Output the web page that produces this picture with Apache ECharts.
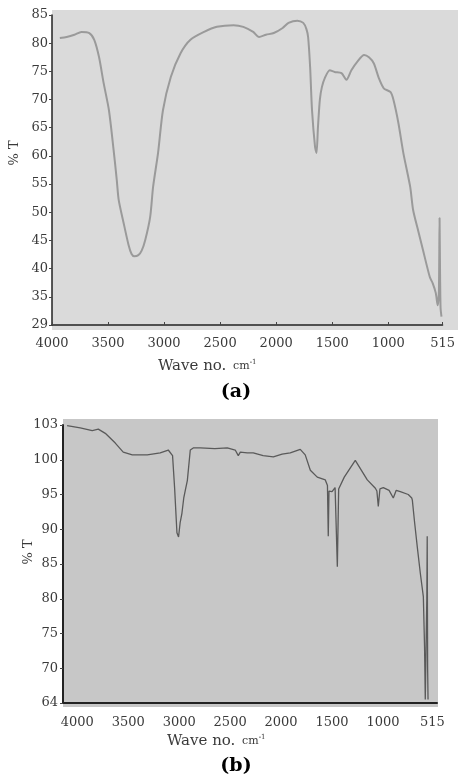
<!DOCTYPE html>
<html><head><meta charset="utf-8">
<script src="https://cdn.jsdelivr.net/npm/echarts@6/dist/echarts.min.js"></script>
<style>html,body{margin:0;padding:0;background:#fff}#c{width:458px;height:778px}</style>
</head><body><div id="c"></div>
<script>
// Panel (a): wavenumber (cm-1) and %T
const waveA = [3930,3869,3800,3737,3667,3623,3580,3540,3492,3450,3422,3405,3361,3317,3290,3265,3230,3200,3168,3124,3098,3054,3010,2940,2853,2765,2643,2529,2380,2293,2205,2152,2091,2021,1942,1890,1811,1758,1730,1715,1697,1680,1653,1640,1627,1610,1592,1566,1522,1478,1417,1373,1329,1277,1215,1172,1128,1084,1040,979,953,909,865,804,778,730,690,629,603,576,559,548,542,538,533,525];
const transA = [80.9,81.1,81.5,82.0,81.8,80.6,77.5,73,68.1,61,55.7,52.2,48.1,44.2,42.6,42.2,42.4,43.2,45.1,49.2,54.5,60.5,68.1,74.0,78.2,80.6,82.0,82.9,83.2,82.9,82.0,81.1,81.5,81.8,82.7,83.6,84.0,83.6,82.5,81.1,75.8,68.1,61.6,60.5,65.1,70,72.2,73.8,75.2,74.9,74.7,73.5,75.2,76.7,77.9,77.5,76.4,73.8,72.0,71.3,69.9,65.8,60.5,54.5,50.4,46.5,43.3,38.5,37.4,35.7,33.5,36,49,40,33,31.5];
// Panel (b)
const waveB = [4100,3971,3853,3794,3725,3627,3549,3460,3313,3186,3107,3065,3045,3022,3006,2990,2973,2955,2940,2920,2891,2862,2793,2650,2528,2450,2420,2400,2332,2273,2176,2076,1990,1910,1812,1763,1713,1645,1566,1545,1537,1530,1500,1470,1448,1435,1380,1272,1154,1075,1060,1046,1030,997,940,899,870,830,752,718,712,690,663,634,604,592,585,576,570,566,562,558];
const transB = [104.9,104.6,104.2,104.4,103.8,102.4,101.1,100.7,100.7,101.0,101.4,100.6,96,89.5,88.9,91,92.3,94.5,95.6,97,101.4,101.7,101.7,101.6,101.7,101.4,100.6,101.1,101.0,101.0,100.6,100.4,100.8,101.0,101.5,100.7,98.5,97.5,97.1,96.3,89.0,95.5,95.4,96.0,84.6,95.8,97.5,99.9,97.1,95.9,95.5,93.3,95.8,96.0,95.6,94.5,95.6,95.4,95.0,94.5,94.2,91,87.4,83.7,80.3,73,65.5,65.5,80,89,70,65.5];
// Tick labels
const xTicks = [4000,3500,3000,2500,2000,1500,1000,515];
const yTickLabelsA = ['29','35','40','45','50','55','60','65','70','75','80','85'];
const yTickLabelsB = ['64','70','75','80','85','90','95','100','103'];
const xAxisName = 'Wave no.';
const xAxisUnit = 'cm';
const yAxisName = '% T';
const panelLabels = ['(a)','(b)'];

const zip = (xs, ys) => xs.map((x, i) => [x, ys[i]]);
const serif = 'DejaVu Serif';
const lblStyle = {fontFamily: serif, fontSize: 13, color: '#3a3a3a'};

const chart = echarts.init(document.getElementById('c'));
chart.setOption({
  animation: false,
  backgroundColor: '#fff',
  grid: [
    {left: 52, right: 8, top: 15, height: 310},
    {left: 63, right: 21, top: 425, height: 278}
  ],
  xAxis: [
    {gridIndex: 0, type: 'value', min: 515, max: 4000, inverse: true,
     axisLine: {lineStyle: {color: '#222', width: 1.5}},
     axisTick: {inside: true, length: 3, customValues: xTicks, lineStyle: {color: '#444'}},
     axisLabel: Object.assign({customValues: xTicks, margin: 12, formatter: v => String(v)}, lblStyle),
     splitLine: {show: false}},
    {gridIndex: 1, type: 'value', min: 470, max: 4140, inverse: true,
     axisLine: {lineStyle: {color: '#222', width: 2}},
     axisTick: {show: false, customValues: xTicks},
     axisLabel: Object.assign({customValues: xTicks, margin: 13, formatter: v => String(v)}, lblStyle),
     splitLine: {show: false}}
  ],
  yAxis: [
    {gridIndex: 0, type: 'value', min: 30, max: 85, interval: 5,
     axisLine: {show: true, lineStyle: {color: '#222', width: 1.5}},
     axisTick: {show: true, length: 3, lineStyle: {color: '#444'}},
     axisLabel: Object.assign({margin: 4, formatter: v => yTickLabelsA[Math.round((v - 30) / 5)] }, lblStyle),
     splitLine: {show: false}},
    {gridIndex: 1, type: 'value', min: 65, max: 105, interval: 5,
     axisLine: {show: true, lineStyle: {color: '#222', width: 2}},
     axisTick: {show: true, length: 3, lineStyle: {color: '#444'}},
     axisLabel: Object.assign({margin: 5, formatter: v => yTickLabelsB[Math.round((v - 65) / 5)] }, lblStyle),
     splitLine: {show: false}}
  ],
  series: [
    {type: 'line', xAxisIndex: 0, yAxisIndex: 0, data: zip(waveA, transA), showSymbol: false, smooth: 0.25,
     lineStyle: {color: '#9a9a9a', width: 2}},
    {type: 'line', xAxisIndex: 1, yAxisIndex: 1, data: zip(waveB, transB), showSymbol: false,
     lineStyle: {color: '#5a5a5a', width: 1.3}}
  ],
  graphic: [
    {type: 'rect', z: -10, shape: {x: 52, y: 10, width: 406, height: 320}, style: {fill: '#dadada'}},
    {type: 'rect', z: -10, shape: {x: 63, y: 419, width: 375, height: 288}, style: {fill: '#c7c7c7'}},
    {type: 'text', x: 15, y: 153, rotation: Math.PI / 2,
     style: {text: yAxisName, fontFamily: serif, fontSize: 13, fill: '#3a3a3a', align: 'center', verticalAlign: 'middle'}},
    {type: 'text', x: 29, y: 552, rotation: Math.PI / 2,
     style: {text: yAxisName, fontFamily: serif, fontSize: 13, fill: '#3a3a3a', align: 'center', verticalAlign: 'middle'}},
    {type: 'text', x: 158, y: 366,
     style: {text: '{a|' + xAxisName + '}  {b|' + xAxisUnit + '}{c|-1}', verticalAlign: 'middle',
       rich: {a: {fontFamily: serif, fontSize: 15, fill: '#3a3a3a'}, b: {fontFamily: serif, fontSize: 11, fill: '#3a3a3a'}, c: {fontFamily: serif, fontSize: 7, fill: '#3a3a3a', verticalAlign: 'top', padding: [0,0,8,0]}}}},
    {type: 'text', x: 167, y: 741,
     style: {text: '{a|' + xAxisName + '}  {b|' + xAxisUnit + '}{c|-1}', verticalAlign: 'middle',
       rich: {a: {fontFamily: serif, fontSize: 15, fill: '#3a3a3a'}, b: {fontFamily: serif, fontSize: 11, fill: '#3a3a3a'}, c: {fontFamily: serif, fontSize: 7, fill: '#3a3a3a', verticalAlign: 'top', padding: [0,0,8,0]}}}},
    {type: 'text', x: 236, y: 392,
     style: {text: panelLabels[0], fontFamily: serif, fontWeight: 'bold', fontSize: 19, fill: '#000', align: 'center', verticalAlign: 'middle'}},
    {type: 'text', x: 236, y: 766,
     style: {text: panelLabels[1], fontFamily: serif, fontWeight: 'bold', fontSize: 19, fill: '#000', align: 'center', verticalAlign: 'middle'}}
  ]
});
</script></body></html>
